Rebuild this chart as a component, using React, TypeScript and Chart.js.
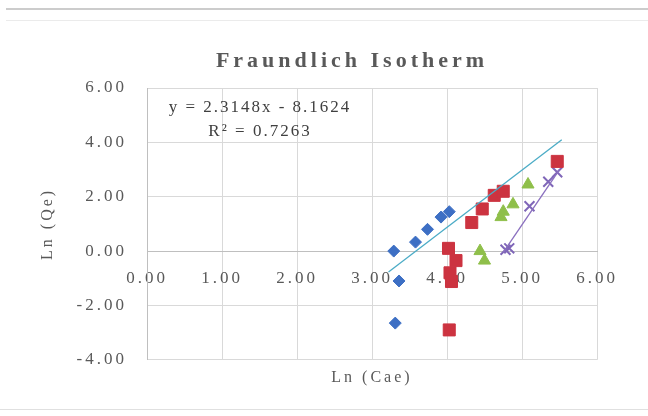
import React, { useEffect, useRef } from 'react';
import { Chart, registerables } from 'chart.js';

Chart.register(...registerables);

const chartTitle = 'Fraundlich Isotherm';
const xAxisTitle = 'Ln (Cae)';
const yAxisTitle = 'Ln (Qe)';
const equationText = 'y = 2.3148x - 8.1624';
const r2Text = 'R² = 0.7263';

const xTicks = [0, 1, 2, 3, 4, 5, 6];
const yTicks = [-4, -2, 0, 2, 4, 6];

const blueX = [3.29, 3.58, 3.74, 3.92, 4.03, 3.36, 3.31];
const blueY = [0.0, 0.33, 0.8, 1.25, 1.45, -1.1, -2.65];

const redX = [4.02, 4.12, 4.04, 4.06, 4.03, 4.33, 4.47, 4.63, 4.75, 5.47];
const redY = [0.1, -0.35, -0.8, -1.12, -2.9, 1.05, 1.55, 2.05, 2.2, 3.3];

const greenX = [4.44, 4.5, 4.72, 4.75, 4.88, 5.08];
const greenY = [0.0, -0.35, 1.25, 1.45, 1.72, 2.45];

const purpleX = [4.78, 4.83, 5.1, 5.35, 5.47];
const purpleY = [0.05, 0.1, 1.65, 2.55, 2.9];

const trendAX = [3.22, 5.53];
const trendAY = [-0.77, 4.1];
const trendBX = [4.75, 5.5];
const trendBY = [-0.05, 3.0];

const pts = (xs: number[], ys: number[]) => xs.map((x, i) => ({ x, y: ys[i] }));

const TEXT = '#595959';
const SERIF = "'Liberation Serif', 'Times New Roman', serif";

const spacingPlugin = {
  id: 'spacing',
  beforeUpdate(chart: any) { chart.ctx.letterSpacing = '3px'; },
  beforeDraw(chart: any) { chart.ctx.letterSpacing = '3px'; },
};

const textPlugin = {
  id: 'texts',
  afterDraw(chart: any) {
    const { ctx, chartArea } = chart;
    ctx.save();
    ctx.fillStyle = TEXT;
    ctx.textAlign = 'center';
    ctx.textBaseline = 'alphabetic';
    ctx.letterSpacing = '4px';
    ctx.font = `bold 22px ${SERIF}`;
    const cx = (chartArea.left + chartArea.right) / 2 - 20;
    ctx.fillText(chartTitle, cx, 67);
    ctx.fillStyle = '#404040';
    ctx.letterSpacing = '2px';
    ctx.font = `17px ${SERIF}`;
    const ex = chartArea.left + 113;
    ctx.fillText(equationText, ex, 112);
    ctx.fillText(r2Text, ex, 136);
    ctx.restore();
  },
};

export default function App() {
  const ref = useRef<HTMLCanvasElement>(null);
  useEffect(() => {
    document.body.style.margin = '0';
    const canvas = ref.current!;
    const tickFont = { family: SERIF, size: 17 };
    const chart = new Chart(canvas, {
      type: 'scatter',
      data: {
        datasets: [
          { label: 'trendA', data: pts(trendAX, trendAY), showLine: true, pointRadius: 0, borderColor: '#4bacc6', borderWidth: 1.3, fill: false },
          { label: 'trendB', data: pts(trendBX, trendBY), showLine: true, pointRadius: 0, borderColor: '#8a6fbf', borderWidth: 1.3, fill: false },
          { label: 'S1', data: pts(blueX, blueY), pointStyle: 'rectRot', pointRadius: 6, backgroundColor: '#3d6fc4', borderColor: '#3d6fc4', borderWidth: 1 },
          { label: 'S2', data: pts(redX, redY), pointStyle: 'rect', pointRadius: 8.5, backgroundColor: '#cc3340', borderColor: '#cc3340', borderWidth: 1 },
          { label: 'S3', data: pts(greenX, greenY), pointStyle: 'triangle', pointRadius: 7, backgroundColor: '#8fbf4a', borderColor: '#8fbf4a', borderWidth: 1 },
          { label: 'S4', data: pts(purpleX, purpleY), pointStyle: 'crossRot', pointRadius: 7, backgroundColor: '#7f66b8', borderColor: '#7f66b8', borderWidth: 2 },
        ],
      },
      options: {
        animation: false,
        responsive: false,
        devicePixelRatio: 1,
        layout: { padding: { top: 88, right: 51, bottom: 0, left: 0 } },
        plugins: { legend: { display: false }, tooltip: { enabled: false }, title: { display: false } },
        scales: {
          x: {
            type: 'linear',
            position: { y: 0 } as any,
            min: 0,
            max: 6,
            afterBuildTicks: (s: any) => { s.ticks = xTicks.map((v) => ({ value: v })); },
            ticks: { callback: (v: any) => Number(v).toFixed(2), color: TEXT, font: tickFont, padding: 17, maxRotation: 0, autoSkip: false },
            grid: { color: '#d9d9d9', drawTicks: false, lineWidth: 1 },
            border: { display: true, color: '#bfbfbf', width: 1 },
          },
          x2: {
            type: 'linear',
            position: 'bottom',
            min: 0,
            max: 6,
            ticks: { display: false },
            grid: { display: false, drawTicks: false },
            border: { display: false },
            title: { display: true, text: xAxisTitle, color: TEXT, font: { family: SERIF, size: 16 }, padding: { top: 8, bottom: 29 } },
          },
          y: {
            type: 'linear',
            position: 'left',
            min: -4,
            max: 6,
            afterBuildTicks: (s: any) => { s.ticks = yTicks.map((v) => ({ value: v })); },
            afterFit: (s: any) => { s.width = 147; },
            ticks: { callback: (v: any) => Number(v).toFixed(2), color: TEXT, font: tickFont, padding: 20, autoSkip: false },
            grid: { color: '#d9d9d9', drawTicks: false, lineWidth: 1 },
            border: { display: true, color: '#bfbfbf', width: 1 },
            title: { display: true, text: yAxisTitle, color: TEXT, font: { family: SERIF, size: 16 }, padding: { top: 38, bottom: 0 } },
          },
        },
      },
      plugins: [spacingPlugin, textPlugin],
    } as any);
    return () => chart.destroy();
  }, []);
  return (
    <div style={{ position: 'relative', width: 648, height: 416, background: '#ffffff', overflow: 'hidden' }}>
      <div style={{ position: 'absolute', left: 6, right: 0, top: 8, borderTop: '2px solid #cccccc' }} />
      <div style={{ position: 'absolute', left: 6, right: 0, top: 20, borderTop: '1px solid #ebebeb' }} />
      <div style={{ position: 'absolute', left: 0, right: 0, top: 409, borderTop: '1px solid #e0e0e0' }} />
      <canvas ref={ref} width={648} height={416} style={{ position: 'absolute', left: 0, top: 0, width: 648, height: 416 }} />
    </div>
  );
}
